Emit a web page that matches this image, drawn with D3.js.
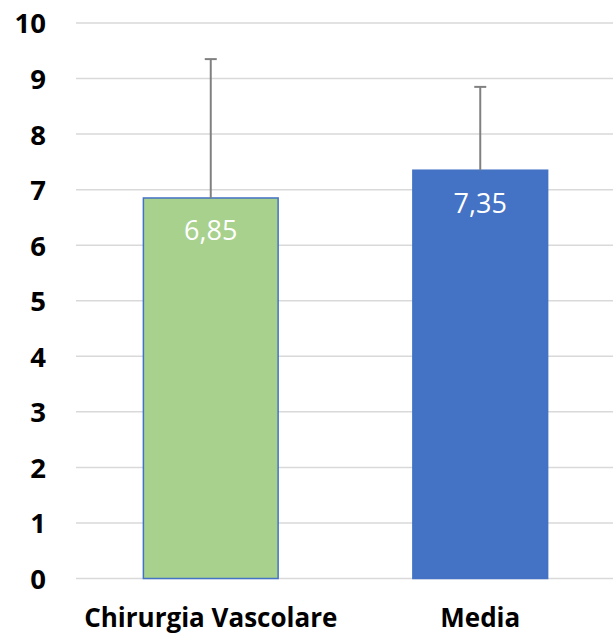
<!DOCTYPE html>
<html><head><meta charset="utf-8">
<script src="https://cdn.jsdelivr.net/npm/d3@7"></script>
<style>body{margin:0;background:#fff}svg{display:block}</style>
</head><body>
<script>
const categories = ["Chirurgia Vascolare", "Media"];
const values = [6.85, 7.35];
const errors = [2.5, 1.5];
const valueLabels = ["6,85", "7,35"];
const yTicks = [0,1,2,3,4,5,6,7,8,9,10];
const fills = ["#A9D18E", "#4472C4"];

const W = 613, H = 635;
const svg = d3.select("body").append("svg").attr("width", W).attr("height", H);
const x = d3.scaleBand().domain(categories).range([76, 615]).paddingInner(0.5).paddingOuter(0.25);
const y = d3.scaleLinear().domain([0, 10]).range([578.5, 23]);
const font = "'Open Sans', sans-serif";

// gridlines
svg.append("g").selectAll("line").data(yTicks).join("line")
  .attr("x1", 76).attr("x2", 615)
  .attr("y1", d => y(d)).attr("y2", d => y(d))
  .attr("stroke", "#d9d9d9").attr("stroke-width", 1.5);

// y axis labels
const yAxis = d3.axisLeft(y).tickValues(yTicks).tickSize(0).tickPadding(0).tickFormat(d3.format("d"));
const gy = svg.append("g").attr("transform", "translate(46,0)").call(yAxis);
gy.select(".domain").remove();
gy.selectAll("text").attr("font-family", font).attr("font-weight", "bold").attr("font-size", 27.5).attr("fill", "#000").attr("dy", "0.36em");

// bars
svg.append("g").selectAll("rect").data(values).join("rect")
  .attr("x", (d, i) => x(categories[i]))
  .attr("width", x.bandwidth())
  .attr("y", d => y(d))
  .attr("height", d => y(0) - y(d))
  .attr("fill", (d, i) => fills[i])
  .attr("stroke", "#4472C4").attr("stroke-width", 1.5);

// error bars
const eg = svg.append("g").attr("stroke", "#808080").attr("stroke-width", 2);
values.forEach((v, i) => {
  const cx = x(categories[i]) + x.bandwidth() / 2;
  eg.append("line").attr("x1", cx).attr("x2", cx).attr("y1", y(v)).attr("y2", y(v + errors[i]));
  eg.append("line").attr("x1", cx - 6).attr("x2", cx + 6).attr("y1", y(v + errors[i])).attr("y2", y(v + errors[i]));
});

// value labels
svg.append("g").selectAll("text").data(values).join("text")
  .attr("x", (d, i) => x(categories[i]) + x.bandwidth() / 2)
  .attr("y", d => y(d) + 42.5)
  .attr("text-anchor", "middle")
  .attr("font-family", font).attr("font-size", 27).attr("fill", "#fff")
  .text((d, i) => valueLabels[i]);

// x axis labels
const xAxis = d3.axisBottom(x).tickSize(0).tickPadding(0);
const gx = svg.append("g").attr("transform", "translate(0,627)").call(xAxis);
gx.select(".domain").remove();
gx.selectAll("text").attr("font-family", font).attr("font-weight", "bold").attr("font-size", 26).attr("fill", "#000").attr("dy", 0);
</script>
</body></html>
